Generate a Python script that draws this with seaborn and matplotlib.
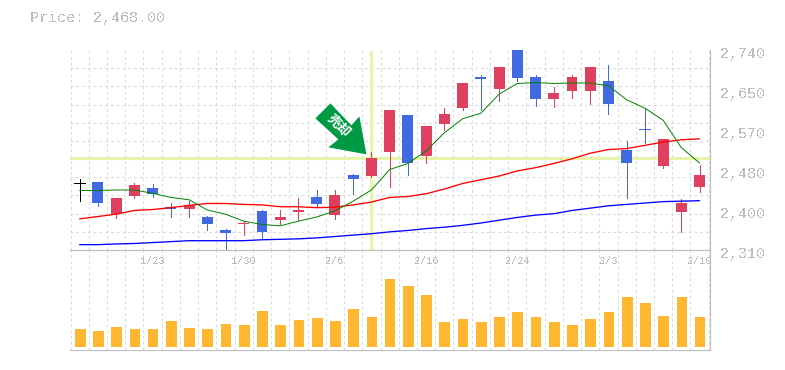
import numpy as np
import pandas as pd
import matplotlib
matplotlib.use('Agg')
import matplotlib.pyplot as plt
import matplotlib.transforms as mtrans
from matplotlib.patches import Polygon
import seaborn as sns

# daily prices
highs = [2462, 2456, 2421, 2455, 2451, 2412, 2415, 2383, 2356, 2372, 2397, 2395, 2421, 2438, 2438, 2473, 2520, 2612,
         2601, 2576, 2615, 2668, 2686, 2703, 2741, 2686, 2660, 2686, 2703, 2707, 2544, 2614, 2548, 2420, 2492]
tops = [2455, 2456, 2421, 2449, 2443, 2402, 2407, 2382, 2354, 2369, 2393, 2382, 2397, 2423, 2428, 2471, 2507, 2612,
        2600, 2576, 2602, 2668, 2683, 2703, 2739, 2681, 2647, 2683, 2703, 2673, 2526, 2569.5, 2548, 2410, 2471]
bottoms = [2455, 2411, 2387, 2426, 2430, 2398, 2398, 2366, 2347, 2366, 2349, 2375, 2391, 2409, 2385, 2463, 2469, 2520,
           2497, 2512, 2580, 2615, 2678, 2656, 2679, 2634, 2634, 2652, 2652, 2624, 2497, 2568, 2491, 2392, 2445]
lows = [2415, 2405, 2379, 2422, 2424, 2381, 2381, 2353, 2310, 2342, 2336, 2365, 2375, 2405, 2377, 2430, 2467, 2445,
        2471, 2497, 2568, 2611, 2610, 2630, 2673, 2620, 2617, 2636, 2624, 2602, 2422, 2539, 2486, 2349, 2434]
kinds = ['k', 'b', 'r', 'r', 'b', 'b', 'r', 'b', 'b', 'r', 'b', 'r', 'r', 'b', 'r', 'b', 'r', 'r',
         'b', 'r', 'r', 'r', 'b', 'r', 'b', 'b', 'r', 'r', 'r', 'b', 'b', 'b', 'r', 'r', 'r']
ma_short = [2438, 2438, 2439, 2439, 2432, 2423, 2418, 2396, 2387, 2372, 2365, 2362, 2372, 2381, 2394, 2415, 2439, 2483,
            2496, 2523, 2562, 2592, 2604, 2645, 2668, 2670, 2668, 2669, 2669, 2663, 2633, 2615, 2589, 2530, 2497]
ma_mid = [2377, 2382, 2387, 2395, 2397, 2401, 2406, 2410, 2410, 2408, 2407, 2403, 2403, 2401, 2402, 2407, 2413, 2423,
          2425, 2431, 2441, 2453, 2461, 2469, 2480, 2487, 2496, 2506, 2518, 2526, 2528, 2535, 2542, 2547, 2549]
ma_long = [2321.5, 2321.5, 2323, 2324, 2326, 2328, 2330, 2330, 2330, 2330, 2332, 2333, 2334, 2336, 2339, 2342, 2345, 2349,
           2352, 2356, 2359, 2363, 2368, 2374, 2380, 2385, 2388, 2395, 2400, 2405, 2408, 2411, 2414, 2415, 2416]
volumes = [63, 57, 69, 63, 63, 87, 66, 63, 78, 75, 117, 75, 90, 96, 87, 123, 99, 213,
           192, 165, 84, 93, 84, 99, 114, 99, 84, 75, 93, 114, 159, 141, 102, 159, 99]
date_pos = [4, 9, 14, 19, 24, 29, 34]
date_labels = ['1/23', '1/30', '2/6', '2/16', '2/24', '3/3', '3/10']
price_ticks = [2310, 2396, 2482, 2568, 2654, 2740]
price_labels = ['2,310', '2,400', '2,480', '2,570', '2,650', '2,740']

W, H = 785, 370
RED, BLUE = '#E04060', '#4169E1'
LIGHT = '#E6F5A8'
TEXT = '#BDBDBD'
GRID = '#DCDCDC'
DASH = (0, (2.6, 2.6))

sns.set_theme(style='white')
plt.rcParams['font.family'] = ['Liberation Mono', 'DejaVu Sans']
plt.rcParams['text.antialiased'] = False

df = pd.DataFrame({'day': np.arange(len(volumes)), 'volume': volumes,
                   'ma_short': ma_short, 'ma_mid': ma_mid, 'ma_long': ma_long})

fig = plt.figure(figsize=(W / 100, H / 100), dpi=100, facecolor='white')
ax = fig.add_axes([70 / W, (H - 250) / H, 640 / W, 200 / H], zorder=2)
vol = fig.add_axes([70 / W, (H - 350) / H, 640 / W, 100 / H], zorder=1)
xlim = (-0.53, 34.57)
cell_edges = np.arange(-0.5, 34.6, 1)

# volume panel, native_scale shrinks width by 0.8
sns.barplot(data=df, x='day', y='volume', native_scale=True, color='#FFB732', saturation=1,
            width=0.75, ax=vol, zorder=3, antialiased=False)
vol.set_xlim(*xlim)
vol.set_ylim(-6, 294)
vol.set_xticks(cell_edges)
vol.set_yticks([])
vol.set_xlabel('')
vol.set_ylabel('')
vol.tick_params(length=0, labelbottom=False)
vol.grid(axis='x', color=GRID, ls=DASH, lw=0.8, zorder=0)
vol.set_axisbelow(True)

# price panel
ax.patch.set_alpha(0)
ax.set_xlim(*xlim)
ax.set_ylim(2310, 2740)
ax.set_xticks(cell_edges, minor=True)
ax.set_yticks(np.linspace(2310, 2740, 12), minor=True)
ax.grid(which='minor', color=GRID, ls=DASH, lw=0.8, zorder=0)
ax.set_axisbelow(True)
ax.set_xticks(date_pos, date_labels)
ax.set_yticks(price_ticks, price_labels)
ax.yaxis.tick_right()
ax.tick_params(which='both', length=0)
ax.tick_params(axis='x', labelsize=7.3, labelcolor=TEXT, pad=4)
ax.tick_params(axis='y', labelsize=10.8, labelcolor=TEXT, pad=7)
shift = mtrans.ScaledTranslation(0, -2.5 / 100, fig.dpi_scale_trans)
for lab in ax.get_yticklabels():
    lab.set_transform(lab.get_transform() + shift)

# highlighted day and price
ax.axvline(16, ymax=0.99, color=LIGHT, lw=2.2, zorder=1)
ax.axhline(2507, color=LIGHT, lw=2.2, zorder=1)

# candles
colors = {'r': RED, 'b': BLUE, 'k': 'black'}
for i, kind in enumerate(kinds):
    c = colors[kind]
    ax.vlines(i, lows[i], highs[i], color=c, linewidth=0.72, zorder=2, antialiased=False, clip_on=False)
    if tops[i] - bottoms[i] < 3:
        ax.hlines(tops[i], i - 0.3, i + 0.3, color=c, linewidth=0.72, zorder=2, antialiased=False)
    else:
        ax.bar(i, tops[i] - bottoms[i], bottom=bottoms[i], width=0.6, color=c, linewidth=0, zorder=2,
               clip_on=False, antialiased=False)

sns.lineplot(data=df, x='day', y='ma_mid', color='#FF0000', linewidth=0.95, ax=ax, zorder=3)
sns.lineplot(data=df, x='day', y='ma_long', color='#0000FF', linewidth=0.95, ax=ax, zorder=3)
sns.lineplot(data=df, x='day', y='ma_short', color='#008000', linewidth=0.7, ax=ax, zorder=4)
ax.set_xlabel('')
ax.set_ylabel('')

# panel frames
for a in (ax, vol):
    for side in a.spines:
        a.spines[side].set_visible(False)
    for side in ('bottom', 'right'):
        a.spines[side].set_visible(True)
        a.spines[side].set_color('#C0C0C0')
        a.spines[side].set_linewidth(0.9)

# sell marker, pixel offsets from the crossing of the highlight lines (y up)
cross = ax.transData.transform((16, 2507))
arrow = np.array([[-41, 55], [-56, 40], [-33, 19], [-43, 11], [-5, 4], [-12, 42], [-20, 33]], dtype=float)
ax.add_patch(Polygon(arrow + cross, closed=True, transform=mtrans.IdentityTransform(),
                     fc='#009944', ec='none', zorder=5, clip_on=False))
ax.text(cross[0] - 33, cross[1] + 33, '売却', family=['Noto Sans CJK JP', 'DejaVu Sans'], color='white',
        fontsize=9.5, fontweight='bold', rotation=-45, ha='center', va='center', antialiased=True,
        rotation_mode='anchor', transform=mtrans.IdentityTransform(), zorder=6)

fig.text(30 / W, (H - 18) / H, 'Price: 2,468.00', color=TEXT, fontsize=10.8, va='center')

fig.savefig('out.png', dpi=100, facecolor='white')
